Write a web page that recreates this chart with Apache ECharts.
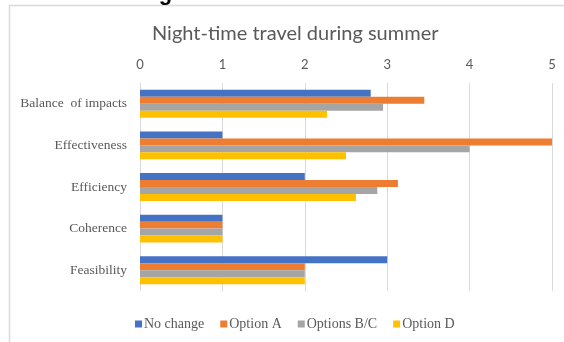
<!DOCTYPE html>
<html>
<head>
<meta charset="utf-8">
<script src="https://cdn.jsdelivr.net/npm/echarts@6/dist/echarts.min.js"></script>
<style>
  html, body { margin: 0; padding: 0; background: #ffffff; }
  #chart { width: 564px; height: 342px; }
</style>
</head>
<body>
<div id="chart"></div>
<script>
// Scores per criterion for each summer night-time travel option
const categories = ['Balance  of impacts', 'Effectiveness', 'Efficiency', 'Coherence', 'Feasibility'];
const noChange   = [2.8, 1, 2, 1, 3];
const optionA    = [3.45, 5, 3.13, 1, 2];
const optionsBC  = [2.95, 4, 2.88, 1, 2];
const optionD    = [2.27, 2.5, 2.62, 1, 2];
const seriesNames = ['No change', 'Option A', 'Options B/C', 'Option D'];
const xTicks = [0, 1, 2, 3, 4, 5];

const colors = ['#4472C4', '#ED7D31', '#A5A5A5', '#FFC000'];
const seriesData = [noChange, optionA, optionsBC, optionD];

const chart = echarts.init(document.getElementById('chart'), null, { renderer: 'canvas' });

chart.setOption({
  animation: false,
  color: colors,
  title: {
    text: 'Night-time travel during summer',
    left: 147,
    top: 19,
    textStyle: { fontFamily: 'Lato', fontSize: 20, fontWeight: 'normal', color: '#595959' }
  },
  graphic: [
    {
      type: 'rect',
      shape: { x: 9.5, y: 5.5, width: 620, height: 400 },
      style: { fill: 'none', stroke: '#d9d9d9', lineWidth: 1.5 },
      silent: true
    },
    {
      type: 'text',
      left: 12,
      top: -17,
      style: { text: 'Overall scoring', font: 'bold 22px "Liberation Sans"', fill: '#000000' },
      silent: true
    }
  ],
  grid: { left: 140, right: 12, top: 83, bottom: 51, containLabel: false },
  xAxis: {
    type: 'value',
    position: 'top',
    min: xTicks[0],
    max: xTicks[xTicks.length - 1],
    interval: 1,
    axisLine: { show: false },
    axisTick: { show: false },
    axisLabel: { color: '#595959', fontFamily: 'Lato', fontSize: 13, margin: 12 },
    splitLine: { show: true, lineStyle: { color: '#d9d9d9', width: 1 } }
  },
  yAxis: {
    type: 'category',
    inverse: true,
    data: categories,
    axisLine: { show: false },
    axisTick: { show: false },
    axisLabel: { color: '#595959', fontFamily: 'Liberation Serif', fontSize: 13.5, margin: 13, padding: [3, 0, 0, 0] }
  },
  legend: {
    data: seriesNames,
    left: 130,
    top: 312,
    icon: 'rect',
    itemWidth: 7,
    itemHeight: 7,
    itemGap: 16,
    textStyle: { color: '#595959', fontFamily: 'Liberation Serif', fontSize: 14, padding: [0, 0, 0, -3] }
  },
  series: seriesNames.map((name, i) => ({
    name: name,
    type: 'bar',
    data: seriesData[i],
    barGap: '0%',
    barCategoryGap: '33%',
    itemStyle: { color: colors[i] }
  }))
});
</script>
</body>
</html>
